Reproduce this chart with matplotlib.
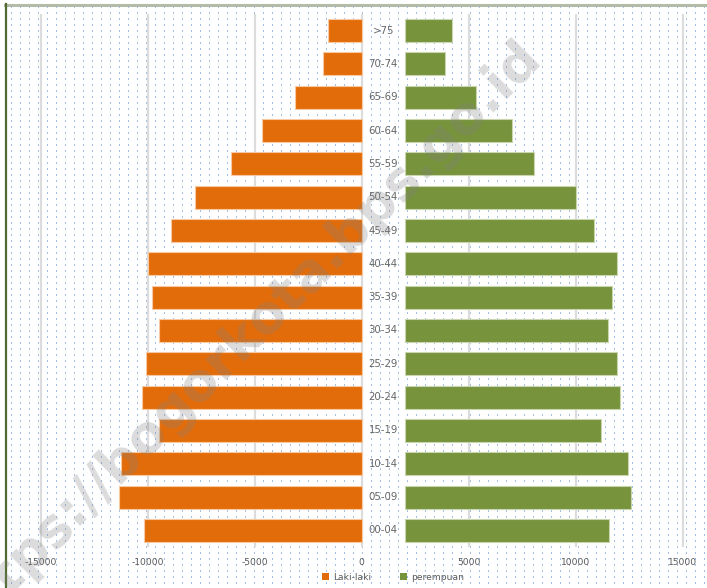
import numpy as np
import matplotlib
matplotlib.use("Agg")
import matplotlib.pyplot as plt
from matplotlib.patches import Patch
from matplotlib.lines import Line2D

# ---------------- data ----------------
age_groups = ["00-04", "05-09", "10-14", "15-19", "20-24", "25-29", "30-34",
              "35-39", "40-44", "45-49", "50-54", "55-59", "60-64", "65-69",
              "70-74", ">75"]
male = [10170, 11310, 11260, 9470, 10250, 10090, 9480, 9770, 10000, 8920,
        7760, 6080, 4630, 3130, 1780, 1570]
female = [9530, 10560, 10420, 9160, 10050, 9910, 9490, 9670, 9910, 8830,
          7990, 6030, 5000, 3300, 1890, 2180]
xticks = [-15000, -10000, -5000, 0, 5000, 10000, 15000]
xtick_labels = ["-15000", "-10000", "-5000", "0", "5000", "10000", "15000"]
legend_labels = ["Laki-laki", "perempuan"]
watermark = "https://bogorkota.bps.go.id"

# ---------------- style ----------------
W, H = 707, 588
ORANGE = "#E36C0A"
GREEN = "#77933C"
TXT = "#595959"
GAP = 2030          # central spacer for the age labels

fig = plt.figure(figsize=(W / 100, H / 100), dpi=100)
fig.patch.set_facecolor("white")

# dotted background texture
bg = np.ones((H, W, 3))
dot = np.array([0.64, 0.75, 0.91])
for yy in range(6, H, 6):
    for xx in range(11, W, 9):
        bg[yy:yy + 2, xx] = dot
fig.figimage(bg, 0, 0, zorder=0)

ax = fig.add_axes([5 / W, 1 - 547 / H, 1 - 5 / W, 533 / H])
ax.set_zorder(2)
ax.set_facecolor("none")
px = 5000 / 107.0
ax.set_xlim((5 - 361.5) * px, (707 - 361.5) * px)
ax.set_ylim(-0.5, len(age_groups) - 0.5)

y = np.arange(len(age_groups))
ax.barh(y, [-m for m in male], height=0.69, color=ORANGE,
        edgecolor="#f6c9a2", linewidth=0.8, zorder=3)
ax.barh(y, female, left=GAP, height=0.69, color=GREEN,
        edgecolor="#c9d6ad", linewidth=0.8, zorder=3)

for i, lab in enumerate(age_groups):
    ax.text(GAP / 2, i, lab, ha="center", va="center", fontsize=7.3,
            color="#666666", zorder=4)

ax.set_xticks(xticks)
ax.set_xticklabels(xtick_labels, fontsize=6.6, color=TXT)
ax.tick_params(axis="x", length=0, pad=8)
ax.set_yticks([])
ax.grid(axis="x", color="#dcdcdc", linewidth=1.6, zorder=1)
ax.set_axisbelow(True)
for s in ax.spines.values():
    s.set_visible(False)

handles = [Patch(facecolor=ORANGE, edgecolor="none"),
           Patch(facecolor=GREEN, edgecolor="none")]
leg = fig.legend(handles, legend_labels, loc="center",
                 bbox_to_anchor=(393 / W, 1 - 577 / H), ncol=2,
                 frameon=False, fontsize=6.6, handlelength=0.75,
                 handleheight=0.75, handletextpad=0.4, columnspacing=3.2)
leg.set_zorder(5)
for t in leg.get_texts():
    t.set_color(TXT)

# borders
fig.add_artist(Line2D([5 / W, 1], [1 - 4.5 / H] * 2, color="#b3bca6", lw=2.2,
                      zorder=6))
fig.add_artist(Line2D([5.5 / W] * 2, [0, 1 - 4 / H], color="#4f6b2f", lw=1.6,
                      zorder=6))

# watermark
fig.text(243 / W, 1 - 337 / H, watermark, rotation=45, rotation_mode="anchor",
         ha="center", va="center", fontsize=38, fontweight="bold",
         color="#808080", alpha=0.28, zorder=10)

fig.savefig("out.png", dpi=100)
